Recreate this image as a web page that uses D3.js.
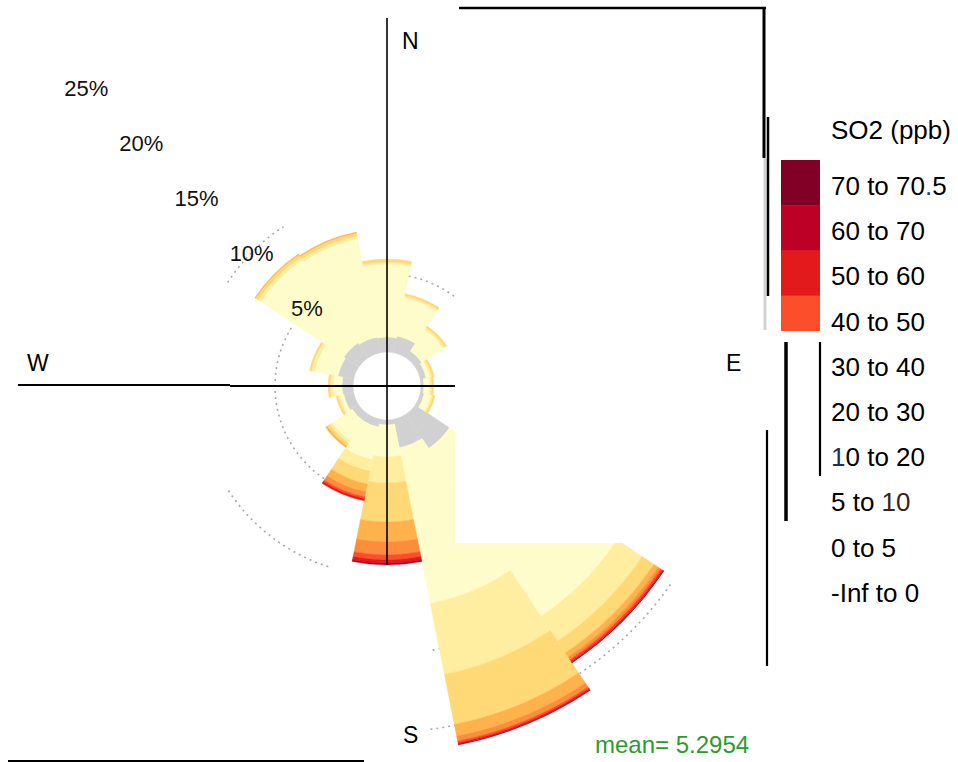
<!DOCTYPE html>
<html><head><meta charset="utf-8">
<script src="https://cdn.jsdelivr.net/npm/d3@7"></script>
<style>html,body{margin:0;padding:0;background:#fff;} svg{display:block;font-family:"Liberation Sans",Arial,sans-serif;}</style>
</head><body><svg id="c" width="958" height="762"></svg>
<script>
// ---------------- data ----------------
const directions = ["N","NNE","NE","ENE","E","ESE","SE","SSE","S","SSW","SW","WSW","W","WNW","NW","NNW"];
const dirAngles  = [0,22.5,45,67.5,90,112.5,135,157.5,180,202.5,225,247.5,270,292.5,315,337.5];
const bandLabels = ["-Inf to 0","0 to 5","5 to 10","10 to 20","20 to 30","30 to 40","40 to 50","50 to 60","60 to 70","70 to 70.5"];
const bandColors = ["#d1d1d1","#FFFCCB","#FFEDA0","#FED976","#FEB24C","#FD8D3C","#FC4E2A","#E31A1C","#BD0026","#800026"];
// frequency (% of time) of each SO2 band, per wind direction (order of `directions`)
const freqNeg     = [0.96,1.09,0.51,0.38,0.19,0.26,2.63,1.86,0.32,0.51,0.51,0.64,0.71,1.03,1.15,1.03];
const freq0to5    = [4.68,2.50,1.67,0.26,0.39,0.45,12.95,10.19,2.05,2.12,1.54,0.26,0.57,1.53,6.41,6.41];
const freq5to10   = [0.13,0.13,0.13,0.13,0.13,0.12,1.92,4.62,1.67,0.77,0.19,0.13,0.19,0.20,0.20,0.19];
const freq10to20  = [0.19,0.13,0.13,0.13,0.12,0.13,0.90,3.27,2.50,0.83,0.20,0.12,0.13,0.12,0.19,0.19];
const freq20to30  = [0,0,0,0,0,0,0.32,0.77,1.28,0.51,0.12,0,0,0,0.06,0.06];
const freq30to40  = [0,0,0,0,0,0,0.19,0.32,0.83,0.32,0,0,0,0,0,0];
const freq40to50  = [0,0,0,0,0,0,0.13,0.12,0.32,0.13,0,0,0,0,0,0];
const freq50to60  = [0,0,0,0,0,0,0.06,0.07,0.20,0.13,0,0,0,0,0,0];
const freq60to70  = [0,0,0,0,0,0,0.07,0.06,0.12,0,0,0,0,0,0,0];
const freq70to705 = [0,0,0,0,0,0,0,0,0,0,0,0,0,0,0,0];
const pctTicks = [5,10,15,20,25];
const pctTickLabels = ["5%","10%","15%","20%","25%"];
const compassLabels = ["N","E","S","W"];
const legendTitle = "SO2 (ppb)";
const meanValue = 5.2954;

const series = [freqNeg,freq0to5,freq5to10,freq10to20,freq20to30,freq30to40,freq40to50,freq50to60,freq60to70,freq70to705];

// ---------------- layout ----------------
const svg = d3.select("#c");
const cx = 387, cy = 386;
const rScale = d3.scaleLinear().domain([0,25]).range([34,424]);
const deg = Math.PI/180;
const halfWidth = 11.25;

// table rows for d3.stack
const rows = directions.map((d,i)=>{
  const o = {dir:d, angle:dirAngles[i]};
  bandLabels.forEach((b,j)=>{ o[b] = series[j][i]; });
  return o;
});
const stacked = d3.stack().keys(bandLabels)(rows);

// clip reproducing the blanked area of the reference
const defs = svg.append("defs");
defs.append("clipPath").attr("id","roseClip")
  .append("path").attr("clip-rule","evenodd")
  .attr("d","M0,0H958V762H0Z M455,0H958V543H455Z");
defs.append("clipPath").attr("id","legClip")
  .append("rect").attr("x",0).attr("y",0).attr("width",958).attr("height",331);

const rose = svg.append("g").attr("clip-path","url(#roseClip)")
  .append("g").attr("transform",`translate(${cx},${cy})`);

// dashed percentage grid (only fragments visible in the reference)
const gridArcs = [
  {pct:5, from:205, to:302},{pct:5, from:5, to:37},
  {pct:10, from:303, to:327},{pct:10, from:198, to:237},
  {pct:15, from:168.5, to:171},
  {pct:20, from:125, to:147},{pct:20, from:168.5, to:173.5}
];
rose.selectAll("path.grid").data(gridArcs).join("path").attr("class","grid")
  .attr("d", g=>{
    const r = rScale(g.pct);
    const p = d3.path();
    p.arc(0,0,r,(g.from-90)*deg,(g.to-90)*deg);
    return p.toString();
  })
  .attr("fill","none").attr("stroke","#ababab").attr("stroke-width",1.6)
  .attr("stroke-dasharray","2 4");

const arc = d3.arc();
stacked.forEach((layer,j)=>{
  rose.append("g").selectAll("path").data(layer.filter(d=>d[1]>d[0])).join("path")
    .attr("d", d=> arc({
      innerRadius: rScale(d[0]), outerRadius: rScale(d[1]),
      startAngle: (d.data.angle-halfWidth)*deg, endAngle:(d.data.angle+halfWidth)*deg }))
    .attr("fill", bandColors[j])
    .attr("stroke", bandColors[j]).attr("stroke-width",0.4);
});

// percentage labels along NW
svg.append("g").selectAll("text").data(pctTicks).join("text")
  .attr("x", p=> cx + rScale(p)*Math.sin(315*deg) - 1)
  .attr("y", p=> cy - rScale(p)*Math.cos(315*deg) + 2)
  .attr("text-anchor","middle").attr("dominant-baseline","central")
  .attr("font-size",22).attr("fill","#111")
  .text((p,i)=>pctTickLabels[i]);

// axis lines
const ax = svg.append("g").attr("stroke","#000");
ax.append("line").attr("x1",cx).attr("x2",cx).attr("y1",18).attr("y2",565).attr("stroke-width",1.6);
ax.append("line").attr("x1",18).attr("x2",230).attr("y1",cy-1).attr("y2",cy-1).attr("stroke-width",2);
ax.append("line").attr("x1",230).attr("x2",455).attr("y1",cy).attr("y2",cy).attr("stroke-width",2);

// compass letters
const compassPos = [[402,49],[726,371],[403,743],[27,371]];
svg.append("g").selectAll("text").data(compassLabels).join("text")
  .attr("x",(d,i)=>compassPos[i][0]).attr("y",(d,i)=>compassPos[i][1])
  .attr("font-size",23).attr("fill","#000").text(d=>d);

// frame fragments
const fr = svg.append("g");
const seg = (x1,y1,x2,y2,w,c)=> fr.append("line").attr("x1",x1).attr("y1",y1).attr("x2",x2).attr("y2",y2)
  .attr("stroke",c||"#000").attr("stroke-width",w);
seg(459,8,766,8,2.5);
seg(764,8,764,158,3);
seg(765,158,765,330,3,"#d2d2d2");
seg(768,117,768,296,2.5);
seg(786,342,786,521,3.5);
seg(820,342,820,476,2.2);
seg(767,430,767,666,2.2);
seg(8,761,364,761,2);

// legend
const legX = 831, legY0 = 186, legStep = 45.2;
svg.append("text").attr("x",legX).attr("y",130).attr("dominant-baseline","central")
  .attr("font-size",26).attr("fill","#000").text(legendTitle);
const legOrder = bandLabels.map((b,j)=>j).reverse();
const swG = svg.append("g").attr("clip-path","url(#legClip)");
swG.selectAll("rect").data(legOrder.filter(j=>j>=6)).join("rect")
  .attr("x",781).attr("width",39)
  .attr("y",(j,i)=> legY0 - 26 + i*legStep).attr("height",legStep+0.5)
  .attr("fill",j=>bandColors[j]);
// a few glyphs in the reference legend are tinted
const tint = {"70 to 70.5":[[8,9,"#1f3f7a"]],"10 to 20":[[0,1,"#1e3352"]],"5 to 10":[[5,7,"#3a2414"]]};
svg.append("g").selectAll("text").data(legOrder).join("text")
  .attr("x",legX).attr("y",(j,i)=> legY0 + i*legStep)
  .attr("dominant-baseline","central").attr("font-size",26).attr("fill","#000")
  .each(function(j){
    const s = bandLabels[j], t = d3.select(this);
    const marks = tint[s] || [];
    let pos = 0;
    marks.forEach(([a,b,c])=>{
      if (a>pos) t.append("tspan").text(s.slice(pos,a));
      t.append("tspan").attr("fill",c).text(s.slice(a,b));
      pos = b;
    });
    if (pos < s.length) t.append("tspan").text(s.slice(pos));
  });

// mean
svg.append("text").attr("x",595).attr("y",753).attr("font-size",24)
  .attr("fill","#2e9b2e").text("mean= " + meanValue);
</script></body></html>
